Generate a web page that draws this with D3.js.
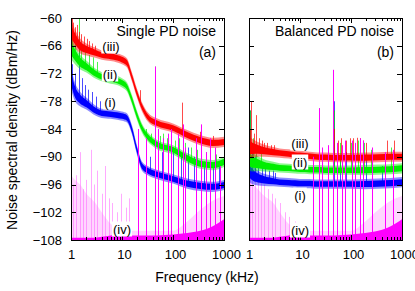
<!DOCTYPE html>
<html>
<head>
<meta charset="utf-8">
<script src="https://cdn.jsdelivr.net/npm/d3@7"></script>
<style>
  body { margin: 0; background: #fff; }
  svg { font-family: "Liberation Sans", Arial, sans-serif; }
</style>
</head>
<body>
<div id="chart"></div>
<script>
// frequency grid (kHz) for the noise band centres
const freqs = [1, 1.2, 1.5, 2, 3, 4, 6, 8, 10, 12.5, 15.7, 19.6, 24.6, 32, 48, 100, 190, 340, 600, 1000];
// half width of the noise band (dB)
const spread = [2.4, 2, 1.6, 1.3, 1.1, 1, 1, 1, 1, 1, 1, 1, 1, 1, 1, 1, 1.1, 1.1, 1.1, 1.1];

// (a) single PD
const redA = [-63, -64.5, -66, -66.8, -67.5, -68, -68.3, -68.6, -69, -69.7, -72.8, -76.2, -79.2, -81.4, -82.7, -83.8, -85.3, -86.4, -87, -86.8];
const greenA = [-66.5, -68, -69.5, -70.5, -72, -72.7, -73.2, -73.5, -74, -74.9, -77.7, -81, -83.8, -85.7, -87.3, -88.5, -90.3, -91.5, -91.8, -91.1];
const blueA = [-73, -76, -77.5, -78.5, -80, -80.6, -80.8, -81, -81.2, -81.6, -84.2, -88.5, -92, -93, -93.8, -94.8, -95.8, -96.3, -96.5, -96.1];
const magentaA = [-107.5, -107.5, -107.5, -107.5, -107.5, -107.3, -107, -106.8, -106.8, -107, -107, -107, -107, -107, -107, -106.8, -106.5, -106, -105, -103.5];
const magentaHazeA = [-94, -95, -96, -98, -100, -102, -104.5, -105.5, -106, -106, -106, -106, -106, -106, -106, -106, -104, -101.5, -99.5, -98.5];

// (b) balanced PD
const redB = [-88, -88.2, -88.4, -88.7, -89, -89.2, -89.4, -89.6, -89.7, -89.8, -89.9, -90, -90.1, -90.1, -90.2, -90.2, -90.2, -90.1, -90, -90];
const greenB = [-90.5, -91.2, -91.5, -91.9, -92.2, -92.4, -92.5, -92.6, -92.7, -92.7, -92.8, -92.8, -92.8, -92.9, -92.9, -92.9, -92.9, -92.8, -92.7, -92.5];
const blueB = [-93, -94, -94.6, -95, -95.3, -95.5, -95.6, -95.7, -95.8, -95.8, -95.8, -95.9, -95.9, -95.9, -95.9, -95.9, -95.9, -95.8, -95.7, -95.5];
const magentaB = [-107.5, -107.5, -107.5, -107.5, -107.5, -107.3, -107, -106.8, -106.8, -107, -107, -107, -107, -107, -107, -106.8, -106.5, -106, -105, -103.5];
const magentaHazeB = [-95, -96, -97, -98.5, -100, -102, -104.5, -105.5, -106, -106, -106, -106, -106, -106, -106, -106, -104, -101.5, -99.5, -98.5];

// spikes: [freq kHz, top dB]
const redSpikesA = [[1.03, -60], [1.1, -61], [1.18, -62], [1.3, -61.5], [1.45, -63], [1.6, -63.5], [1.8, -64], [2.05, -64.5], [2.3, -65], [2.6, -65.5], [3, -66], [22.5, -75.6], [44.4, -72], [150, -78.3], [340, -84.6], [600, -85.5]];
const greenSpikesA = [[1.05, -63], [1.2, -64.5], [1.43, -60], [1.6, -66], [1.9, -67], [2.3, -68], [2.7, -68.5], [3.2, -69.5], [30, -84], [37, -85], [44.4, -70.5], [55, -85.5], [63, -85], [75, -86], [90, -86], [110, -86.5], [130, -86], [170, -87], [230, -88], [300, -88.5], [450, -89], [700, -89.5]];
const blueSpikesA = [[1.05, -70], [1.2, -72], [1.43, -65.5], [1.65, -73], [1.9, -74.5], [2.2, -75.5], [2.6, -76], [3.1, -77], [3.7, -78], [35, -90], [45, -88], [60, -89], [80, -90], [100, -88], [125, -86], [145, -89], [200, -88], [260, -90], [400, -91], [600, -92], [800, -91]];
const magentaSpikesA = [[20.6, -84], [29.6, -86], [44.4, -70.5], [50.8, -84], [63.7, -86], [80, -85], [91.6, -84], [125, -85], [157, -83], [172, -88], [282, -86], [350, -83], [440, -89], [530, -86], [660, -88], [830, -92]];
const magentaPaleA = [[1.0, -60], [1.1, -96], [1.25, -94], [1.5, -89], [1.7, -97], [2.0, -95], [2.5, -88.5], [2.8, -96], [3.3, -93], [4, -98], [4.6, -92], [5.5, -99], [6.5, -100], [8, -102], [9.5, -98], [12, -101], [14, -99]];

const redSpikesB = [[1.05, -84], [1.1, -78.1], [1.25, -85], [1.4, -81], [1.6, -86], [1.8, -86.5], [2, -87], [2.3, -87], [2.7, -87.5], [3.1, -87.5], [23.6, -80], [46, -84], [55, -86.5], [65, -86], [80, -86.5], [95, -86], [110, -86], [130, -85.9], [150, -86], [170, -86.5], [200, -87], [500, -86.5], [700, -86.5]];
const greenSpikesB = [[1.05, -80], [1.2, -86], [1.4, -88], [1.7, -89], [23.6, -79.5], [46, -80], [60, -87], [100, -87], [140, -86.5], [180, -87], [250, -88.5], [600, -88]];
const blueSpikesB = [[1.05, -80], [1.15, -88], [1.3, -90], [1.5, -91], [1.8, -92], [2.1, -92.5], [2.5, -93], [2.9, -93], [3.3, -93.5], [46, -78], [60, -90], [80, -89], [120, -89], [150, -88], [200, -90], [400, -92]];
const magentaSpikesB = [[18, -90], [23.6, -79.5], [27, -88], [35.6, -87.5], [44.6, -71.2], [52, -87], [66, -87.5], [76, -86.5], [103, -86.5], [119, -87], [150, -86], [172, -86.5], [257, -88], [465, -89], [670, -88.5]];
const magentaPaleB = [[1.0, -79], [1.05, -88], [1.15, -93], [1.3, -92], [1.5, -95], [1.7, -94], [2, -96], [2.4, -97], [2.8, -98], [3.3, -99], [4, -100], [5, -102], [6, -103], [8, -104]];

const yTicks = [-60, -66, -72, -78, -84, -90, -96, -102, -108];
const xTicks = [1, 10, 100, 1000];
const curveLabels = ["(iii)", "(ii)", "(i)", "(iv)"];

const width = 415, height = 291;
const plotTop = 18, plotBottom = 240;

const svg = d3.select("#chart").append("svg")
    .attr("width", width)
    .attr("height", height);

const y = d3.scaleLinear().domain([-108, -60]).range([plotBottom, plotTop]);

function drawPanel(opts) {
    const x = d3.scaleLog().domain([1, 1000]).range([opts.x0, opts.x1]);
    const xr = f => Math.round(x(f)) + 0.5;
    const g = svg.append("g");
    const clipId = "clip-" + opts.id;
    svg.append("clipPath").attr("id", clipId)
        .append("rect")
        .attr("x", opts.x0).attr("y", plotTop)
        .attr("width", opts.x1 - opts.x0).attr("height", plotBottom - plotTop);
    const plot = g.append("g").attr("clip-path", `url(#${clipId})`);

    const band = (vals, k) => d3.area()
        .x((d, i) => x(freqs[i]))
        .y0((d, i) => y(vals[i] - spread[i] * k))
        .y1((d, i) => y(vals[i] + spread[i] * k))
        .curve(d3.curveMonotoneX)(vals);

    // magenta haze
    plot.append("path")
        .attr("d", d3.area()
            .x((d, i) => x(freqs[i]))
            .y0(y(-108))
            .y1((d, i) => y(opts.haze[i]))
            .curve(d3.curveMonotoneX)(opts.haze))
        .attr("fill", "#ff77ff").attr("opacity", 0.3);

    plot.append("g").selectAll("line").data(opts.magPale).join("line")
        .attr("x1", d => xr(d[0])).attr("x2", d => xr(d[0]))
        .attr("y1", y(-108)).attr("y2", d => y(d[1]))
        .attr("stroke", "#ff66ff").attr("stroke-width", 1)
        .attr("opacity", 0.55);

    const series = [
        { vals: opts.blue, spikes: opts.blueSpikes, color: "#0000ff" },
        { vals: opts.green, spikes: opts.greenSpikes, color: "#00ee00" },
        { vals: opts.red, spikes: opts.redSpikes, color: "#ff0000" }
    ];
    const interp = (vals, f) => {
        const lf = Math.log10(f);
        for (let i = 0; i < freqs.length - 1; i++) {
            const a = Math.log10(freqs[i]), b = Math.log10(freqs[i + 1]);
            if (lf >= a && lf <= b) return vals[i] + (vals[i + 1] - vals[i]) * (lf - a) / (b - a);
        }
        return vals[vals.length - 1];
    };

    series.forEach(s => {
        plot.append("g").selectAll("line").data(s.spikes).join("line")
            .attr("x1", d => xr(d[0])).attr("x2", d => xr(d[0]))
            .attr("y1", d => y(interp(s.vals, d[0])))
            .attr("y2", d => y(d[1]))
            .attr("stroke", s.color).attr("stroke-width", 1)
            .attr("opacity", 0.7);
    });
    series.forEach(s => {
        plot.append("path").attr("d", band(s.vals, 1))
            .attr("fill", s.color).attr("opacity", 0.45);
        plot.append("path").attr("d", band(s.vals, 0.6))
            .attr("fill", s.color);
    });

    // magenta floor band
    plot.append("path")
        .attr("d", d3.area()
            .x((d, i) => x(freqs[i]))
            .y0(y(-108.5))
            .y1((d, i) => y(opts.magenta[i]))
            .curve(d3.curveMonotoneX)(opts.magenta))
        .attr("fill", "#ff00ff");

    plot.append("g").selectAll("line").data(opts.magSpikes).join("line")
        .attr("x1", d => xr(d[0])).attr("x2", d => xr(d[0]))
        .attr("y1", y(-108)).attr("y2", d => y(d[1]))
        .attr("stroke", "#ff00ff").attr("stroke-width", 1);

    // frame
    g.append("rect")
        .attr("x", opts.x0 + 0.5).attr("y", plotTop + 0.5)
        .attr("width", opts.x1 - opts.x0).attr("height", plotBottom - plotTop)
        .attr("fill", "none").attr("stroke", "#000").attr("stroke-width", 1);

    // y ticks (inward, both sides)
    yTicks.forEach(t => {
        const yy = Math.round(y(t)) + 0.5;
        g.append("line").attr("x1", opts.x0).attr("x2", opts.x0 + 5)
            .attr("y1", yy).attr("y2", yy).attr("stroke", "#000");
        g.append("line").attr("x1", opts.x1).attr("x2", opts.x1 - 5)
            .attr("y1", yy).attr("y2", yy).attr("stroke", "#000");
    });
    if (opts.yLabels) {
        const yAxis = d3.axisLeft(y).tickValues(yTicks).tickSize(0).tickPadding(9);
        const ga = g.append("g").attr("transform", `translate(${opts.x0},0)`).call(yAxis);
        ga.select(".domain").remove();
        ga.selectAll("text").attr("font-size", 13).attr("font-family", "Liberation Sans, Arial, sans-serif").attr("fill", "#000");
    }

    // x ticks, major + log minor, top and bottom
    x.ticks().forEach(t => {
        const major = xTicks.includes(t);
        const len = major ? 5 : 3;
        g.append("line").attr("x1", xr(t)).attr("x2", xr(t))
            .attr("y1", plotBottom).attr("y2", plotBottom - len).attr("stroke", "#000");
        g.append("line").attr("x1", xr(t)).attr("x2", xr(t))
            .attr("y1", plotTop).attr("y2", plotTop + len).attr("stroke", "#000");
    });
    const xAxis = d3.axisBottom(x).tickValues(xTicks).tickFormat(d3.format("d")).tickSize(0).tickPadding(10);
    const gx = g.append("g").attr("transform", `translate(0,${plotBottom})`).call(xAxis);
    gx.select(".domain").remove();
    gx.selectAll("text").attr("font-size", 13).attr("font-family", "Liberation Sans, Arial, sans-serif").attr("fill", "#000")
        .attr("dx", d => d === 1 ? 0 : 2);

    // titles
    g.append("text").attr("x", opts.x1 - 8).attr("y", 36)
        .attr("text-anchor", "end").attr("font-size", 14).text(opts.title);
    g.append("text").attr("x", opts.x1 - 8).attr("y", 57)
        .attr("text-anchor", "end").attr("font-size", 14).text(opts.tag);

    // curve labels with white box
    opts.labelPos.forEach((p, i) => {
        const t = g.append("text").attr("x", p[0]).attr("y", p[1] + 4.5)
            .attr("text-anchor", "middle").attr("font-size", 13).text(curveLabels[i]);
        const bb = t.node().getBBox();
        g.insert("rect", () => t.node())
            .attr("x", bb.x - 1).attr("y", bb.y)
            .attr("width", bb.width + 2).attr("height", bb.height)
            .attr("fill", "#fff");
    });
}

drawPanel({
    id: "a", x0: 71, x1: 224, yLabels: true,
    red: redA, green: greenA, blue: blueA, magenta: magentaA, haze: magentaHazeA,
    redSpikes: redSpikesA, greenSpikes: greenSpikesA, blueSpikes: blueSpikesA,
    magSpikes: magentaSpikesA, magPale: magentaPaleA,
    title: "Single PD noise", tag: "(a)",
    labelPos: [[111, 46], [110, 74], [110, 102], [122, 229]]
});
drawPanel({
    id: "b", x0: 249, x1: 402, yLabels: false,
    red: redB, green: greenB, blue: blueB, magenta: magentaB, haze: magentaHazeB,
    redSpikes: redSpikesB, greenSpikes: greenSpikesB, blueSpikes: blueSpikesB,
    magSpikes: magentaSpikesB, magPale: magentaPaleB,
    title: "Balanced PD noise", tag: "(b)",
    labelPos: [[300, 143], [300, 162], [300, 195], [300, 230]]
});

// axis titles
svg.append("text").attr("x", 207).attr("y", 282)
    .attr("text-anchor", "middle").attr("font-size", 14).text("Frequency (kHz)");
svg.append("text")
    .attr("transform", "translate(17,130) rotate(-90)")
    .attr("text-anchor", "middle").attr("font-size", 14)
    .text("Noise spectral density (dBm/Hz)");
</script>
</body>
</html>
